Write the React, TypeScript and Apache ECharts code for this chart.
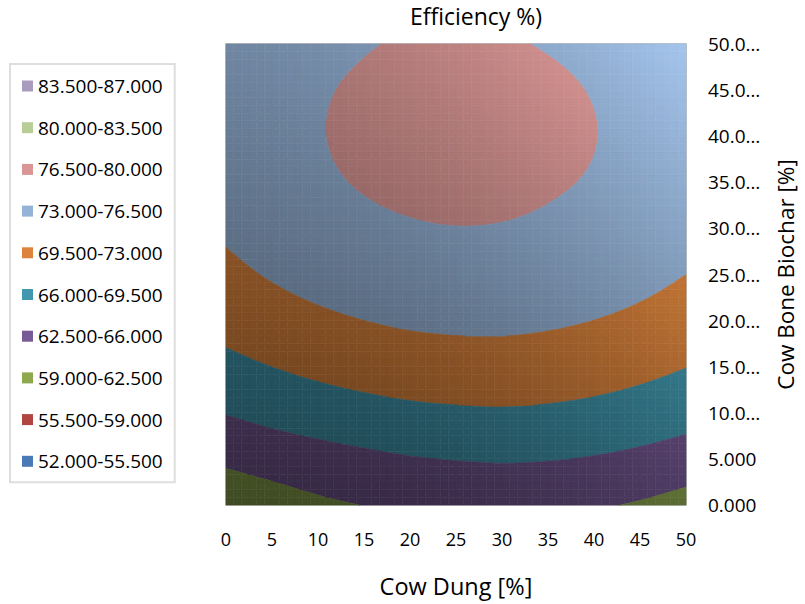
import React, { useEffect, useRef } from "react";
import * as echarts from "echarts";

// ---------- data ----------
const cowDung = [0, 5, 10, 15, 20, 25, 30, 35, 40, 45, 50];
const cowBoneBiochar = [0, 5, 10, 15, 20, 25, 30, 35, 40, 45, 50];

// efficiency[row = biochar index][col = cow dung index]
const efficiencyY0 = [59.7, 60.9, 61.9, 62.55, 63.0, 63.25, 63.3, 63.15, 62.8, 62.2, 61.23];
const efficiencyY5 = [63.2, 64.0, 64.7, 65.3, 65.81, 66.1, 66.28, 66.14, 65.79, 65.23, 64.47];
const efficiencyY10 = [66.12, 66.98, 67.71, 68.31, 68.79, 69.04, 69.17, 68.99, 68.61, 68.01, 67.22];
const efficiencyY15 = [68.6, 69.51, 70.28, 70.88, 71.32, 71.55, 71.62, 71.41, 71.0, 70.38, 69.56];
const efficiencyY20 = [70.64, 71.61, 72.39, 72.99, 73.42, 73.62, 73.64, 73.41, 72.98, 72.33, 71.48];
const efficiencyY25 = [72.25, 73.25, 74.06, 74.66, 75.06, 75.25, 75.23, 74.98, 74.53, 73.87, 73.0];
const efficiencyY30 = [73.43, 74.45, 75.3, 75.9, 76.28, 76.45, 76.38, 76.08, 75.58, 74.9, 74.05];
const efficiencyY35 = [74.21, 75.26, 76.08, 76.68, 77.04, 77.18, 77.09, 76.77, 76.3, 75.6, 74.75];
const efficiencyY40 = [74.51, 75.56, 76.38, 76.98, 77.34, 77.48, 77.39, 77.07, 76.55, 75.9, 75.0];
const efficiencyY45 = [74.38, 75.43, 76.25, 76.85, 77.21, 77.35, 77.26, 76.94, 76.39, 75.75, 74.85];
const efficiencyY50 = [73.82, 74.87, 75.69, 76.35, 76.68, 76.8, 76.68, 76.36, 75.83, 75.2, 74.3];
const efficiency = [
  efficiencyY0, efficiencyY5, efficiencyY10, efficiencyY15, efficiencyY20, efficiencyY25,
  efficiencyY30, efficiencyY35, efficiencyY40, efficiencyY45, efficiencyY50,
];

const bandLabels = [
  "83.500-87.000", "80.000-83.500", "76.500-80.000", "73.000-76.500", "69.500-73.000",
  "66.000-69.500", "62.500-66.000", "59.000-62.500", "55.500-59.000", "52.000-55.500",
];
const bandLows = [83.5, 80, 76.5, 73, 69.5, 66, 62.5, 59, 55.5, 52];
const bandStep = 3.5;
const bandColors = [
  "#a89bbe", "#b9cd96", "#d99694", "#95b3d7", "#dc843c",
  "#4198af", "#775a96", "#8ea84e", "#b0463f", "#4a7ab5",
];

const xTickLabels = ["0", "5", "10", "15", "20", "25", "30", "35", "40", "45", "50"];
const yTickLabels = [
  "0.000", "5.000", "10.0…", "15.0…", "20.0…", "25.0…",
  "30.0…", "35.0…", "40.0…", "45.0…", "50.0…",
];
const chartTitle = "Efficiency %)";
const xTitle = "Cow Dung [%]";
const yTitle = "Cow Bone Biochar [%]";

// ---------- rendering helpers ----------
const FONT = "'Open Sans', 'Noto Sans', sans-serif";
const SUB = 6;

type P = { x: number; y: number; v: number };

function hexToRgb(h: string) {
  const n = parseInt(h.slice(1), 16);
  return [(n >> 16) & 255, (n >> 8) & 255, n & 255];
}

// surface lighting: darker toward the lower left, lighter toward the upper right
function shade(hex: string, x: number, y: number) {
  const f = 0.45 + 0.006 * y + 0.00008 * x * x + 0.00006 * x * y;
  const [r, g, b] = hexToRgb(hex);
  const c = (t: number) => Math.max(0, Math.min(255, Math.round(t * f)));
  return `rgb(${c(r)},${c(g)},${c(b)})`;
}

// grid value with linear extrapolation one step outside
function gridValue(i: number, j: number): number {
  const ni = cowDung.length, nj = cowBoneBiochar.length;
  if (i < 0) return 2 * gridValue(0, j) - gridValue(1, j);
  if (i >= ni) return 2 * gridValue(ni - 1, j) - gridValue(ni - 2, j);
  if (j < 0) return 2 * gridValue(i, 0) - gridValue(i, 1);
  if (j >= nj) return 2 * gridValue(i, nj - 1) - gridValue(i, nj - 2);
  return efficiency[j][i];
}

function catmull(p0: number, p1: number, p2: number, p3: number, t: number) {
  return 0.5 * (2 * p1 + (-p0 + p2) * t + (2 * p0 - 5 * p1 + 4 * p2 - p3) * t * t +
    (-p0 + 3 * p1 - 3 * p2 + p3) * t * t * t);
}

// smooth surface value at cell (i, j) with local fractions (u, w)
function surface(i: number, j: number, u: number, w: number) {
  const rows: number[] = [];
  for (let dj = -1; dj <= 2; dj++) {
    rows.push(
      catmull(gridValue(i - 1, j + dj), gridValue(i, j + dj), gridValue(i + 1, j + dj), gridValue(i + 2, j + dj), u)
    );
  }
  return catmull(rows[0], rows[1], rows[2], rows[3], w);
}

function clip(poly: P[], thr: number, above: boolean): P[] {
  const out: P[] = [];
  const inside = (p: P) => (above ? p.v >= thr : p.v < thr);
  for (let k = 0; k < poly.length; k++) {
    const a = poly[k];
    const b = poly[(k + 1) % poly.length];
    const ia = inside(a);
    const ib = inside(b);
    if (ia !== ib) {
      const t = (thr - a.v) / (b.v - a.v);
      out.push({ x: a.x + (b.x - a.x) * t, y: a.y + (b.y - a.y) * t, v: thr });
    }
    if (ib) out.push(b);
  }
  return out;
}

const cells: number[][] = [];
for (let j = 0; j < cowBoneBiochar.length - 1; j++) {
  for (let i = 0; i < cowDung.length - 1; i++) cells.push([i, j]);
}

function renderCell(_params: any, api: any) {
  const i = api.value(0) as number;
  const j = api.value(1) as number;
  const x0 = cowDung[i], x1 = cowDung[i + 1];
  const y0 = cowBoneBiochar[j], y1 = cowBoneBiochar[j + 1];
  const pt = (u: number, w: number): P => ({
    x: x0 + (x1 - x0) * u,
    y: y0 + (y1 - y0) * w,
    v: surface(i, j, u, w),
  });
  const children: any[] = [];
  for (let a = 0; a < SUB; a++) {
    for (let b = 0; b < SUB; b++) {
      const poly = [
        pt(a / SUB, b / SUB),
        pt((a + 1) / SUB, b / SUB),
        pt((a + 1) / SUB, (b + 1) / SUB),
        pt(a / SUB, (b + 1) / SUB),
      ];
      const vs = poly.map((p) => p.v);
      const vmin = Math.min(...vs);
      const vmax = Math.max(...vs);
      for (let k = 0; k < bandLows.length; k++) {
        const lo = bandLows[k];
        const hi = lo + bandStep;
        if (vmax < lo || vmin >= hi) continue;
        let p = clip(poly, lo, true);
        if (p.length < 3) continue;
        p = clip(p, hi, false);
        if (p.length < 3) continue;
        let cx = 0, cy = 0;
        p.forEach((q) => { cx += q.x; cy += q.y; });
        cx /= p.length; cy /= p.length;
        const col = shade(bandColors[k], cx, cy);
        children.push({
          type: "polygon",
          shape: { points: p.map((q) => api.coord([q.x, q.y])) },
          style: { fill: col, stroke: col, lineWidth: 0.6 },
          silent: true,
        });
      }
    }
  }
  return { type: "group", children };
}

export default function App() {
  const ref = useRef<HTMLDivElement>(null);
  useEffect(() => {
    const chart = echarts.init(ref.current!, null, { renderer: "svg" });
    const option: any = {
      animation: false,
      backgroundColor: "#ffffff",
      textStyle: { fontFamily: FONT, color: "#000" },
      title: {
        text: chartTitle,
        left: 476,
        top: 4,
        textAlign: "center",
        padding: 0,
        textStyle: { fontFamily: FONT, fontSize: 23, fontWeight: "normal", color: "#000" },
      },
      legend: {
        orient: "vertical",
        left: 10,
        top: 64,
        padding: [12, 12, 11, 12],
        itemWidth: 11,
        itemHeight: 11,
        itemGap: 21.7,
        borderColor: "#dedede",
        borderWidth: 2,
        selectedMode: false,
        data: bandLabels.map((name) => ({ name, icon: "rect" })),
        textStyle: { fontFamily: FONT, fontSize: 19, color: "#000", lineHeight: 20 },
      },
      grid: {
        left: 226,
        right: 805 - 688,
        top: 44,
        bottom: 604 - 505,
        show: true,
        borderColor: "#ababab",
        borderWidth: 1.5,
        backgroundColor: "transparent",
      },
      xAxis: {
        type: "value",
        min: 0,
        max: 50,
        interval: 5,
        name: xTitle,
        nameLocation: "middle",
        nameGap: 69,
        nameTextStyle: { fontFamily: FONT, fontSize: 23.5, color: "#000" },
        axisLine: { show: false },
        axisTick: { show: false },
        splitLine: { show: false },
        axisLabel: {
          margin: 25,
          fontSize: 18,
          color: "#000",
          fontFamily: FONT,
          formatter: (v: number) => xTickLabels[Math.round(v / 5)],
        },
      },
      yAxis: {
        type: "value",
        position: "right",
        min: 0,
        max: 50,
        interval: 5,
        name: yTitle,
        nameLocation: "middle",
        nameRotate: 90,
        nameGap: 88,
        nameTextStyle: { fontFamily: FONT, fontSize: 22.5, color: "#000" },
        axisLine: { show: false },
        axisTick: { show: false },
        splitLine: { show: false },
        axisLabel: {
          margin: 22,
          fontSize: 19,
          color: "#000",
          fontFamily: FONT,
          formatter: (v: number) => yTickLabels[Math.round(v / 5)],
        },
      },
      series: [
        {
          type: "custom",
          name: "surface",
          coordinateSystem: "cartesian2d",
          silent: true,
          encode: { x: 0, y: 1 },
          data: cells,
          renderItem: renderCell,
        },
        ...bandLabels.map((name, k) => ({
          name,
          type: "line",
          data: [],
          itemStyle: { color: bandColors[k] },
          lineStyle: { color: bandColors[k] },
        })),
      ],
    };
    chart.setOption(option);
    return () => chart.dispose();
  }, []);
  return (
    <div
      ref={ref}
      style={{ position: "fixed", left: 0, top: 0, width: 805, height: 604, background: "#fff" }}
    />
  );
}
